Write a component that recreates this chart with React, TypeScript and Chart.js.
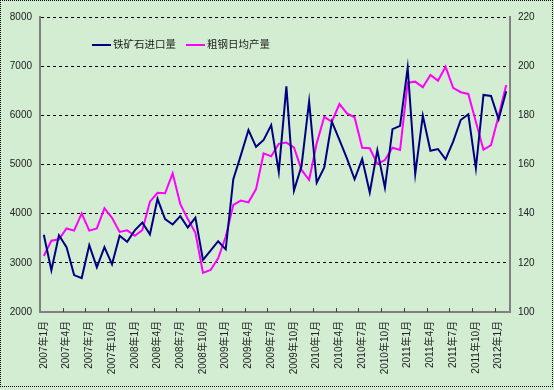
import React, { useEffect, useRef } from 'react';
import { Chart, registerables } from 'chart.js';

Chart.register(...registerables);

const months = [
  '2007年1月', '2007年2月', '2007年3月', '2007年4月', '2007年5月', '2007年6月',
  '2007年7月', '2007年8月', '2007年9月', '2007年10月', '2007年11月', '2007年12月',
  '2008年1月', '2008年2月', '2008年3月', '2008年4月', '2008年5月', '2008年6月',
  '2008年7月', '2008年8月', '2008年9月', '2008年10月', '2008年11月', '2008年12月',
  '2009年1月', '2009年2月', '2009年3月', '2009年4月', '2009年5月', '2009年6月',
  '2009年7月', '2009年8月', '2009年9月', '2009年10月', '2009年11月', '2009年12月',
  '2010年1月', '2010年2月', '2010年3月', '2010年4月', '2010年5月', '2010年6月',
  '2010年7月', '2010年8月', '2010年9月', '2010年10月', '2010年11月', '2010年12月',
  '2011年1月', '2011年2月', '2011年3月', '2011年4月', '2011年5月', '2011年6月',
  '2011年7月', '2011年8月', '2011年9月', '2011年10月', '2011年11月', '2011年12月',
  '2012年1月', '2012年2月',
];

// 铁矿石进口量 (left axis)
const ironOreImports = [
  3570, 2850, 3560, 3320, 2750, 2690, 3360, 2910, 3320, 2970, 3550, 3430,
  3660, 3820, 3580, 4300, 3890, 3780, 3950, 3720, 3920, 3060, 3250, 3440,
  3275, 4700, 5190, 5700, 5360, 5500, 5800, 4850, 6590, 4470, 4970, 6285,
  4630, 4940, 5870, 5500, 5120, 4700, 5110, 4430, 5290, 4530, 5720, 5785,
  6970, 4807, 5993, 5281, 5315, 5105, 5464, 5905, 6021, 4922, 6414, 6393,
  5919, 6490,
];

// 粗钢日均产量 (right axis)
const crudeSteelDaily = [
  122.8, 129.0, 129.6, 134.0, 133.1, 140.1, 133.1, 134.0, 142.2, 138.3, 132.6, 133.2,
  131.0, 133.3, 144.9, 148.5, 148.3, 156.4, 144.0, 137.8, 132.2, 115.9, 117.1, 121.8,
  130.6, 143.6, 145.3, 144.6, 150.0, 164.5, 163.3, 168.4, 168.9, 167.0, 157.8, 153.7,
  168.6, 179.4, 177.4, 184.6, 180.8, 179.2, 166.8, 166.6, 160.2, 161.8, 166.8, 165.9,
  193.3, 193.7, 191.4, 196.4, 194.1, 199.8, 191.2, 189.4, 188.7, 177.4, 166.0, 167.9,
  179.8, 192.3,
];

const leftRange = { min: 2000, max: 8000, step: 1000 };
const rightRange = { min: 100, max: 220, step: 20 };
const labelEvery = 3;

const BG = '#d3edd3';
const FONT = "'Liberation Sans', Arial, 'Noto Sans CJK SC', sans-serif";
const TEXT = '#222222';
const AXIS = '#808080';

const innerTicksPlugin = {
  id: 'innerTicks',
  afterDraw(chart: any) {
    const x = chart.scales.x;
    const { ctx, chartArea } = chart;
    const n = chart.data.labels.length;
    const half = (x.getPixelForValue(1) - x.getPixelForValue(0)) / 2;
    ctx.save();
    ctx.strokeStyle = '#404040';
    ctx.lineWidth = 1;
    for (let i = labelEvery; i < n; i += labelEvery) {
      const px = Math.round(x.getPixelForValue(i) - half) + 0.5;
      ctx.beginPath();
      ctx.moveTo(px, chartArea.bottom);
      ctx.lineTo(px, chartArea.bottom - 4);
      ctx.stroke();
    }
    ctx.restore();
  },
};

const legendPlugin = {
  id: 'customLegend',
  afterDraw(chart: any) {
    const { ctx, chartArea } = chart;
    const y = chartArea.top + 28;
    let xPos = chartArea.left + 52;
    ctx.save();
    ctx.font = `10.5px ${FONT}`;
    ctx.textBaseline = 'middle';
    ctx.textAlign = 'left';
    chart.data.datasets.forEach((ds: any) => {
      ctx.strokeStyle = ds.borderColor;
      ctx.lineWidth = 2;
      ctx.beginPath();
      ctx.moveTo(xPos, y);
      ctx.lineTo(xPos + 19, y);
      ctx.stroke();
      ctx.fillStyle = TEXT;
      ctx.fillText(ds.label, xPos + 21, y);
      xPos += 21 + ctx.measureText(ds.label).width + 10;
    });
    ctx.restore();
  },
};

export default function App() {
  const ref = useRef<HTMLCanvasElement>(null);

  useEffect(() => {
    document.body.style.margin = '0';
    const chart = new Chart(ref.current as HTMLCanvasElement, {
      type: 'line',
      data: {
        labels: months,
        datasets: [
          {
            label: '铁矿石进口量',
            data: ironOreImports,
            borderColor: '#000080',
            backgroundColor: '#000080',
            borderWidth: 2,
            pointRadius: 0,
            tension: 0,
            yAxisID: 'y',
          },
          {
            label: '粗钢日均产量',
            data: crudeSteelDaily,
            borderColor: '#ff00ff',
            backgroundColor: '#ff00ff',
            borderWidth: 2,
            pointRadius: 0,
            tension: 0,
            yAxisID: 'y1',
          },
        ],
      },
      options: {
        animation: false,
        responsive: true,
        maintainAspectRatio: false,
        layout: { padding: { top: 17, left: 0, right: 0, bottom: 0 } },
        plugins: {
          legend: { display: false },
          tooltip: { enabled: false },
        },
        scales: {
          x: {
            offset: true,
            grid: { display: false, drawTicks: false },
            border: { display: true, color: AXIS, width: 2 },
            ticks: {
              autoSkip: false,
              maxRotation: 90,
              minRotation: 90,
              padding: 9,
              color: TEXT,
              font: { family: FONT, size: 10 },
              callback: (_v: any, i: number) => (i % labelEvery === 0 ? months[i] : ''),
            },
            afterFit: (s: any) => {
              s.height = 78;
            },
          },
          y: {
            position: 'left',
            min: leftRange.min,
            max: leftRange.max,
            grid: { color: '#000000', lineWidth: 1, drawTicks: false },
            border: { display: true, color: AXIS, width: 2, dash: [3, 3] },
            ticks: {
              stepSize: leftRange.step,
              padding: 8,
              color: TEXT,
              font: { family: FONT, size: 10 },
              callback: (v: any) => String(v),
            },
            afterFit: (s: any) => {
              s.width = 40;
            },
          },
          y1: {
            position: 'right',
            min: rightRange.min,
            max: rightRange.max,
            grid: { drawOnChartArea: false, drawTicks: false },
            border: { display: true, color: AXIS, width: 2 },
            ticks: {
              stepSize: rightRange.step,
              padding: 8,
              color: TEXT,
              font: { family: FONT, size: 10 },
              callback: (v: any) => String(v),
            },
            afterFit: (s: any) => {
              s.width = 44;
            },
          },
        },
      },
      plugins: [innerTicksPlugin, legendPlugin],
    } as any);
    return () => chart.destroy();
  }, []);

  return (
    <div style={{ position: 'relative', width: 554, height: 390, background: BG }}>
      <canvas ref={ref} style={{ position: 'absolute', left: 0, top: 0 }} />
      <div
        style={{
          position: 'absolute',
          left: 0,
          top: 0,
          width: 553,
          height: 387,
          boxSizing: 'border-box',
          border: '1px dotted #000',
          pointerEvents: 'none',
        }}
      />
    </div>
  );
}
